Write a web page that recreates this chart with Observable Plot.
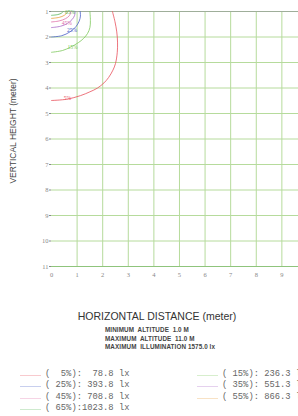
<!DOCTYPE html>
<html><head><meta charset="utf-8">
<script src="https://cdn.jsdelivr.net/npm/d3@7"></script>
<script src="https://cdn.jsdelivr.net/npm/@observablehq/plot@0.6"></script>
<style>
body{margin:0;background:#fff;overflow:hidden}
#wrap{position:relative;width:298px;height:416px;overflow:hidden;background:#fff}
.abs{position:absolute;white-space:pre}
#xtitle{left:0;width:314px;text-align:center;top:310px;font:10.5px "Liberation Sans",Arial,sans-serif;color:#333}
.stat{left:105px;font:bold 6.3px "Liberation Sans",Arial,sans-serif;color:#444;letter-spacing:0.1px}
.leg{font:8.8px "Liberation Mono",monospace;color:#666}
.legline{position:absolute;height:0;border-top:1px solid}
</style>
</head><body><div id="wrap"><div id="chart"></div></div>
<script>
const xTicks = [0,1,2,3,4,5,6,7,8,9];
const yTicks = [1,2,3,4,5,6,7,8,9,10,11];
const levels = ["5%","15%","25%","35%","45%","55%","65%"];
const illum = ["78.8","236.3","393.8","551.3","708.8","866.3","1023.8"];
const colors = ["#e8505c","#7cc85a","#4a5fc8","#a868c8","#e070a8","#e8a040","#5cb85c"];
const contour5 = [[0,4.49],[0.6,4.44],[1.13,4.3],[1.5,4.15],[1.8,4.0],[2.05,3.8],[2.23,3.59],[2.4,3.3],[2.5,3.04],[2.57,2.6],[2.58,2.2],[2.55,1.8],[2.48,1.4],[2.38,1.0]];
const contour15 = [[0,2.6],[0.43,2.53],[0.74,2.4],[1.05,2.22],[1.25,2.06],[1.41,1.86],[1.5,1.63],[1.52,1.35],[1.5,1.0]];
const contour25 = [[0,2.0],[0.4,1.95],[0.72,1.8],[0.95,1.6],[1.08,1.38],[1.13,1.18],[1.12,1.0]];
const contour35 = [[0,1.63],[0.35,1.58],[0.62,1.47],[0.8,1.32],[0.9,1.16],[0.92,1.0]];
const contour45 = [[0,1.41],[0.3,1.37],[0.55,1.28],[0.7,1.16],[0.76,1.0]];
const contour55 = [[0,1.27],[0.3,1.23],[0.5,1.15],[0.6,1.05],[0.62,1.0]];
const contour65 = [[0,1.15],[0.25,1.12],[0.4,1.06],[0.46,1.0]];
const labelLevels = ["5%","15%","25%","45%","65%"];
const labelX = [0.62,0.82,0.8,0.6,0.72];
const labelY = [4.41,2.4,1.75,1.47,1.04];
const statLines = ["MINIMUM  ALTITUDE  1.0 M","MAXIMUM  ALTITUDE  11.0 M","MAXIMUM  ILLUMINATION 1575.0 lx"];

const contours = [contour5,contour15,contour25,contour35,contour45,contour55,contour65];
const rows = contours.flatMap((pts,i)=>pts.map(([x,y])=>({x,y,level:levels[i]})));
const labels = labelLevels.map((l,i)=>({level:l,x:labelX[i],y:labelY[i]}));

const chart = Plot.plot({
  width: 298, height: 285,
  marginLeft: 51, marginRight: 0, marginTop: 11, marginBottom: 19,
  style: {fontFamily: "'Liberation Serif', serif", fontSize: "6.5px", color: "#888", background: "#fff"},
  x: {domain: [0, 9.65], ticks: xTicks, tickSize: 0, tickPadding: 6, label: null, tickFormat: d3.format("d")},
  y: {domain: [1, 11], reverse: true, ticks: yTicks, tickSize: 2, tickPadding: 1, label: null, tickFormat: d3.format("d")},
  color: {domain: levels, range: colors},
  marks: [
    Plot.ruleX(xTicks.filter(d=>d>0), {stroke: "#b6db9c", strokeWidth: 1}),
    Plot.ruleY(yTicks.filter(d=>d>1 && d<11), {stroke: "#b6db9c", strokeWidth: 1}),
    Plot.ruleY([yTicks[0]], {stroke: "#9fae9a", strokeWidth: 1, x1: 0, x2: 9.65}),
    Plot.ruleY([yTicks[yTicks.length-1]], {stroke: "#8fc47c", strokeWidth: 1}),
    Plot.line(rows, {x: "x", y: "y", z: "level", stroke: "level", strokeWidth: 0.8, curve: "catmull-rom"}),
    Plot.text(labels, {x: "x", y: "y", text: "level", fill: "level", fontSize: 5.5, fontFamily: "'Liberation Serif', serif"}),
    Plot.text(["VERTICAL HEIGHT (meter)"], {frameAnchor: "left", textAnchor: "middle", dx: -38, dy: -8, rotate: -90, fontFamily: "'Liberation Sans', Arial, sans-serif", fontSize: 8.5, fill: "#444"})
  ]
});
const wrap = document.getElementById("wrap");
document.getElementById("chart").appendChild(chart);

function addDiv(cls, text, style){const d=document.createElement("div");d.className="abs "+cls;d.textContent=text;Object.assign(d.style,style);wrap.appendChild(d);return d;}
const xt = addDiv("", "HORIZONTAL DISTANCE (meter)", {});
xt.id = "xtitle";
statLines.forEach((s,i)=>addDiv("stat", s, {top: (326 + i*8.5)+"px"}));

// legend
const legOrder = [0,2,4,6,1,3,5];
legOrder.forEach((idx,k)=>{
  const col = k<4 ? 0 : 1;
  const row = col===0 ? k : k-4;
  const cy = 375 + row*11.4;
  const lx = col===0 ? 20 : 197;
  const tx = col===0 ? 45 : 222;
  const ln = document.createElement("div");
  ln.className = "legline";
  Object.assign(ln.style, {left: lx+"px", width: "21px", top: cy+"px", borderColor: colors[idx], opacity: 0.3});
  wrap.appendChild(ln);
  const pct = levels[idx].padStart(3," ");
  const val = illum[idx].padStart(6," ");
  addDiv("leg", "("+" "+pct+"):"+val+" lx", {left: tx+"px", top: (cy-6)+"px"});
});
</script>
</body></html>
